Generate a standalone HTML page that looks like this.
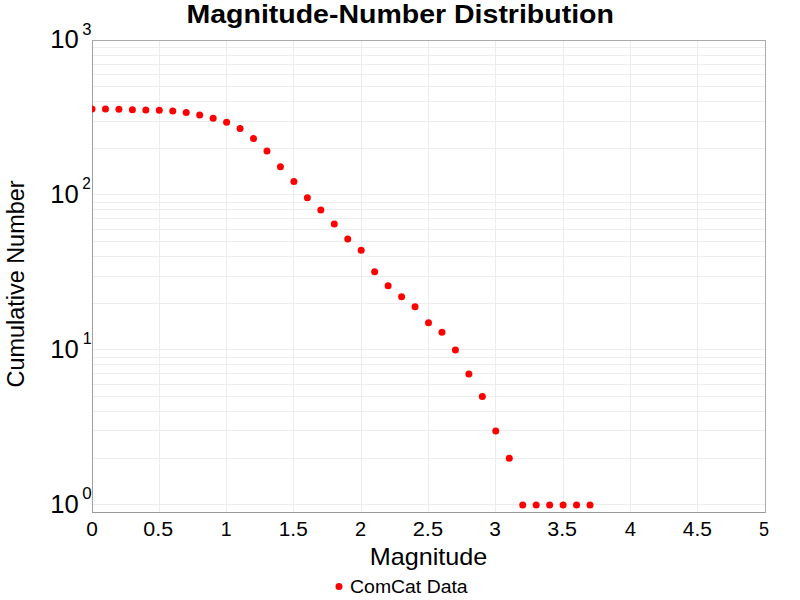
<!DOCTYPE html>
<html><head><meta charset="utf-8"><style>
html,body{margin:0;padding:0;background:#fff;width:800px;height:600px;overflow:hidden}
svg{display:block}
text{font-family:"Liberation Sans",sans-serif;fill:#000}
</style></head><body>
<svg width="800" height="600" viewBox="0 0 800 600">
<rect x="0" y="0" width="800" height="600" fill="#fff"/>
<clipPath id="pc"><rect x="92" y="40" width="673" height="472"/></clipPath>
<g stroke-width="1">
<line x1="92" y1="504.5" x2="765" y2="504.5" stroke="#ededed"/>
<line x1="92" y1="458.5" x2="765" y2="458.5" stroke="#ededed"/>
<line x1="92" y1="430.5" x2="765" y2="430.5" stroke="#ededed"/>
<line x1="92" y1="411.5" x2="765" y2="411.5" stroke="#ededed"/>
<line x1="92" y1="396.5" x2="765" y2="396.5" stroke="#ededed"/>
<line x1="92" y1="384.5" x2="765" y2="384.5" stroke="#ededed"/>
<line x1="92" y1="373.5" x2="765" y2="373.5" stroke="#ededed"/>
<line x1="92" y1="364.5" x2="765" y2="364.5" stroke="#ededed"/>
<line x1="92" y1="357.5" x2="765" y2="357.5" stroke="#ededed"/>
<line x1="92" y1="349.5" x2="765" y2="349.5" stroke="#ededed"/>
<line x1="92" y1="303.5" x2="765" y2="303.5" stroke="#ededed"/>
<line x1="92" y1="276.5" x2="765" y2="276.5" stroke="#ededed"/>
<line x1="92" y1="256.5" x2="765" y2="256.5" stroke="#ededed"/>
<line x1="92" y1="241.5" x2="765" y2="241.5" stroke="#ededed"/>
<line x1="92" y1="229.5" x2="765" y2="229.5" stroke="#ededed"/>
<line x1="92" y1="218.5" x2="765" y2="218.5" stroke="#ededed"/>
<line x1="92" y1="209.5" x2="765" y2="209.5" stroke="#ededed"/>
<line x1="92" y1="202.5" x2="765" y2="202.5" stroke="#ededed"/>
<line x1="92" y1="194.5" x2="765" y2="194.5" stroke="#ededed"/>
<line x1="92" y1="148.5" x2="765" y2="148.5" stroke="#ededed"/>
<line x1="92" y1="121.5" x2="765" y2="121.5" stroke="#ededed"/>
<line x1="92" y1="101.5" x2="765" y2="101.5" stroke="#ededed"/>
<line x1="92" y1="86.5" x2="765" y2="86.5" stroke="#ededed"/>
<line x1="92" y1="74.5" x2="765" y2="74.5" stroke="#ededed"/>
<line x1="92" y1="64.5" x2="765" y2="64.5" stroke="#ededed"/>
<line x1="92" y1="55.5" x2="765" y2="55.5" stroke="#ededed"/>
<line x1="92" y1="47.5" x2="765" y2="47.5" stroke="#ededed"/>
<line x1="159.5" y1="40" x2="159.5" y2="512" stroke="#ececec"/>
<line x1="226.5" y1="40" x2="226.5" y2="512" stroke="#ececec"/>
<line x1="293.5" y1="40" x2="293.5" y2="512" stroke="#ececec"/>
<line x1="361.5" y1="40" x2="361.5" y2="512" stroke="#ececec"/>
<line x1="428.5" y1="40" x2="428.5" y2="512" stroke="#ececec"/>
<line x1="495.5" y1="40" x2="495.5" y2="512" stroke="#ececec"/>
<line x1="563.5" y1="40" x2="563.5" y2="512" stroke="#ececec"/>
<line x1="630.5" y1="40" x2="630.5" y2="512" stroke="#ececec"/>
<line x1="697.5" y1="40" x2="697.5" y2="512" stroke="#ececec"/>
</g>
<rect x="92.5" y="40.5" width="672.5" height="471.5" fill="none" stroke="#ababab" stroke-width="1" shape-rendering="crispEdges"/>
<line x1="92" y1="512.5" x2="765" y2="512.5" stroke="#999" stroke-width="1" shape-rendering="crispEdges"/>
<line x1="92.5" y1="40" x2="92.5" y2="512" stroke="#a0a0a0" stroke-width="1" shape-rendering="crispEdges"/>
<text transform="translate(186.50,23.00) scale(1.1406,1)" font-size="25" font-weight="bold">Magnitude-Number Distribution</text>
<text transform="translate(50.15,513.01) scale(1.0263,1)" font-size="25">10</text>
<text transform="translate(50.15,358.04) scale(1.0263,1)" font-size="25">10</text>
<text transform="translate(50.15,203.07) scale(1.0263,1)" font-size="25">10</text>
<text transform="translate(50.15,48.10) scale(1.0263,1)" font-size="25">10</text>
<text transform="translate(82.23,499.41) scale(1.0323,1)" font-size="16.5">0</text>
<text transform="translate(82.79,344.44) scale(0.9714,1)" font-size="16.5">1</text>
<text transform="translate(82.30,189.47) scale(0.9333,1)" font-size="16.5">2</text>
<text transform="translate(82.25,34.50) scale(1.0065,1)" font-size="16.5">3</text>
<text transform="translate(86.33,535.60) scale(1.0256,1)" font-size="20.3">0</text>
<text transform="translate(143.31,535.60) scale(1.0566,1)" font-size="20.3">0.5</text>
<text transform="translate(220.66,535.60) scale(0.9600,1)" font-size="20.3">1</text>
<text transform="translate(278.76,535.60) scale(1.0272,1)" font-size="20.3">1.5</text>
<text transform="translate(354.92,535.60) scale(0.9838,1)" font-size="20.3">2</text>
<text transform="translate(412.67,535.60) scale(1.0762,1)" font-size="20.3">2.5</text>
<text transform="translate(489.23,535.60) scale(1.0256,1)" font-size="20.3">3</text>
<text transform="translate(547.21,535.60) scale(1.0566,1)" font-size="20.3">3.5</text>
<text transform="translate(624.75,535.60) scale(1.0000,1)" font-size="20.3">4</text>
<text transform="translate(682.78,535.60) scale(1.0318,1)" font-size="20.3">4.5</text>
<text transform="translate(758.91,535.60) scale(0.8895,1)" font-size="20.3">5</text>
<text transform="translate(369.71,565.00) scale(1.0957,1)" font-size="23.0">Magnitude</text>
<text transform="translate(350.09,592.90) scale(1.1095,1)" font-size="17.5">ComCat Data</text>
<text transform="translate(24,284) rotate(-90)" x="0" y="0" text-anchor="middle" font-size="23.3" textLength="207" lengthAdjust="spacingAndGlyphs">Cumulative Number</text>
<circle cx="339" cy="586.5" r="3.5" fill="#ff0000"/>
<g fill="#ff0000" clip-path="url(#pc)">
<circle cx="92.00" cy="108.95" r="3.5"/>
<circle cx="105.46" cy="108.95" r="3.5"/>
<circle cx="118.92" cy="109.32" r="3.5"/>
<circle cx="132.38" cy="109.70" r="3.5"/>
<circle cx="145.84" cy="109.89" r="3.5"/>
<circle cx="159.30" cy="110.27" r="3.5"/>
<circle cx="172.76" cy="111.04" r="3.5"/>
<circle cx="186.22" cy="112.41" r="3.5"/>
<circle cx="199.68" cy="115.03" r="3.5"/>
<circle cx="213.14" cy="118.18" r="3.5"/>
<circle cx="226.60" cy="122.16" r="3.5"/>
<circle cx="240.06" cy="128.62" r="3.5"/>
<circle cx="253.52" cy="138.62" r="3.5"/>
<circle cx="266.98" cy="151.07" r="3.5"/>
<circle cx="280.44" cy="166.79" r="3.5"/>
<circle cx="293.90" cy="181.59" r="3.5"/>
<circle cx="307.36" cy="197.72" r="3.5"/>
<circle cx="320.82" cy="209.99" r="3.5"/>
<circle cx="334.28" cy="223.96" r="3.5"/>
<circle cx="347.74" cy="238.98" r="3.5"/>
<circle cx="361.20" cy="250.22" r="3.5"/>
<circle cx="374.66" cy="271.66" r="3.5"/>
<circle cx="388.12" cy="285.63" r="3.5"/>
<circle cx="401.58" cy="296.87" r="3.5"/>
<circle cx="415.04" cy="306.74" r="3.5"/>
<circle cx="428.50" cy="322.65" r="3.5"/>
<circle cx="441.96" cy="332.28" r="3.5"/>
<circle cx="455.42" cy="349.94" r="3.5"/>
<circle cx="468.88" cy="373.95" r="3.5"/>
<circle cx="482.34" cy="396.59" r="3.5"/>
<circle cx="495.80" cy="430.97" r="3.5"/>
<circle cx="509.26" cy="458.26" r="3.5"/>
<circle cx="522.72" cy="504.91" r="3.5"/>
<circle cx="536.18" cy="504.91" r="3.5"/>
<circle cx="549.64" cy="504.91" r="3.5"/>
<circle cx="563.10" cy="504.91" r="3.5"/>
<circle cx="576.56" cy="504.91" r="3.5"/>
<circle cx="590.02" cy="504.91" r="3.5"/>
</g>
</svg>
</body></html>
